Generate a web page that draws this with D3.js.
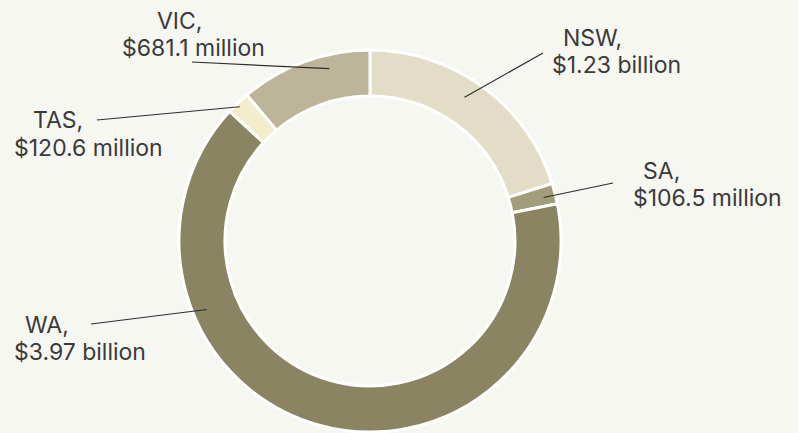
<!DOCTYPE html>
<html>
<head>
<meta charset="utf-8">
<script src="https://cdn.jsdelivr.net/npm/d3@7"></script>
<style>
  html, body { margin: 0; padding: 0; background: #f7f7f2; }
  svg { display: block; }
  text { font-family: Inter, "Open Sans", sans-serif; fill: #3a3a3a; }
</style>
</head>
<body>
<svg id="chart" width="798" height="433"></svg>
<script>
// Data (values in millions of dollars), clockwise from 12 o'clock
const states = ["NSW", "SA", "WA", "TAS", "VIC"];
const values = [1230, 106.5, 3970, 120.6, 681.1];
const valueLabels = ["$1.23 billion", "$106.5 million", "$3.97 billion", "$120.6 million", "$681.1 million"];
const colors = ["#e3dcc7", "#a29d7a", "#8a8462", "#f3edcb", "#bcb59a"];

// Label layout (annotation placement)
const labelLayout = [
  { l1: [563, 46],  l2: [552, 73],  from: [543, 53],  frac: 0.46, r: 172 },
  { l1: [643, 179], l2: [633, 206], from: [613, 183], frac: 0.55, r: 179 },
  { l1: [25, 333],  l2: [14, 360],  from: [91, 324],  frac: 0.72, r: 177 },
  { l1: [33, 128],  l2: [14, 156],  from: [97, 120],  frac: 0.44, r: 187 },
  { l1: [157, 29],  l2: [122, 56],  from: [192, 62],  frac: 0.67, r: 177 }
];

const svg = d3.select("#chart");
const cx = 370, cy = 241, outerR = 191, innerR = 145;
const g = svg.append("g").attr("transform", `translate(${cx},${cy})`);

const data = states.map((s, i) => ({ state: s, value: values[i], label: valueLabels[i], color: colors[i], layout: labelLayout[i] }));

const pie = d3.pie().value(d => d.value).sort(null);
const arc = d3.arc().innerRadius(innerR).outerRadius(outerR);
const arcs = pie(data);

g.selectAll("path.slice")
  .data(arcs)
  .enter().append("path")
  .attr("class", "slice")
  .attr("d", arc)
  .attr("fill", d => d.data.color)
  .attr("stroke", "#ffffff")
  .attr("stroke-width", 3);

// Leader lines and labels
arcs.forEach(a => {
  const L = a.data.layout;
  const ang = a.startAngle + L.frac * (a.endAngle - a.startAngle);
  const px = cx + L.r * Math.sin(ang);
  const py = cy - L.r * Math.cos(ang);
  svg.append("line")
    .attr("x1", L.from[0]).attr("y1", L.from[1])
    .attr("x2", px).attr("y2", py)
    .attr("stroke", "#2e2e2e").attr("stroke-width", 1.2);
  svg.append("text").attr("x", L.l1[0]).attr("y", L.l1[1])
    .attr("font-size", 23).text(a.data.state + ",");
  svg.append("text").attr("x", L.l2[0]).attr("y", L.l2[1])
    .attr("font-size", 23).text(a.data.label);
});
</script>
</body>
</html>
